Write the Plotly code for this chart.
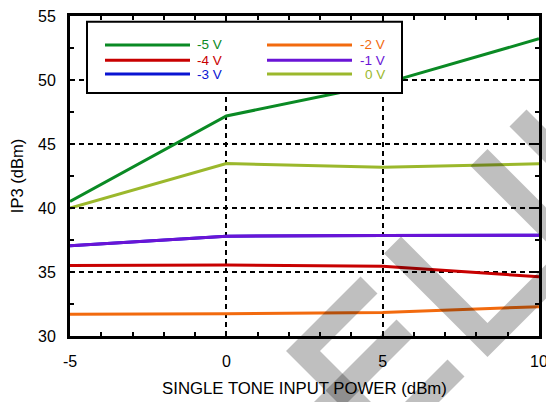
import plotly.graph_objects as go

# ---------------- data ----------------
x_power = [-5, 0, 5, 10]
ip3_m5 = [40.51, 47.19, 49.70, 53.22]
ip3_m4 = [35.51, 35.55, 35.45, 34.63]
ip3_m3 = [37.06, 37.80, 37.85, 37.87]   # hidden under the -1 V curve
ip3_m2 = [31.69, 31.73, 31.84, 32.29]
ip3_m1 = [37.06, 37.80, 37.85, 37.87]
ip3_0 = [40.00, 43.47, 43.19, 43.45]

labels = ["-5 V", "-4 V", "-3 V", "-2 V", "-1 V", "0 V"]
colors = ["#0a8a24", "#c80000", "#0a14d2", "#f26a0e", "#6a14d6", "#9bb82c"]
values = [ip3_m5, ip3_m4, ip3_m3, ip3_m2, ip3_m1, ip3_0]

x_ticks = [-5, 0, 5, 10]
x_ticktext = ["-5", "0", "5", "10"]
y_ticks = [30, 35, 40, 45, 50, 55]
y_ticktext = ["30", "35", "40", "45", "50", "55"]

W, H = 546, 402
ML, MR, MT, MB = 70, 7, 16, 66
PW, PH = W - ML - MR, H - MT - MB


def px(xp):
    return (xp - ML) / PW


def py(yp):
    return (H - MB - yp) / PH


fig = go.Figure()
draw_order = [2, 0, 1, 3, 4, 5]
for i in draw_order:
    fig.add_trace(go.Scatter(
        x=x_power, y=values[i], mode="lines", name=labels[i],
        line=dict(color=colors[i], width=3), showlegend=False,
        hoverinfo="skip"))

FONT = "Liberation Sans, Arial, Helvetica, sans-serif"
axis_common = dict(
    showline=True, linewidth=3, linecolor="black", mirror="allticks",
    ticks="inside", ticklen=5, tickwidth=1.5, tickcolor="black",
    showgrid=True, gridcolor="black", gridwidth=2, griddash="5px,4px",
    zeroline=False, tickfont=dict(size=16, color="black", family=FONT),
    ticklabeloverflow="allow",
)

fig.update_layout(
    width=W, height=H,
    margin=dict(l=ML, r=MR, t=MT, b=MB, autoexpand=False),
    paper_bgcolor="white", plot_bgcolor="white",
    font=dict(family=FONT, color="black"),
    xaxis=dict(range=[-5, 10], tickmode="array", tickvals=x_ticks,
               ticktext=x_ticktext,
               minor=dict(tickmode="linear", tick0=0, dtick=1, ticks="inside",
                          ticklen=4, tickwidth=1.5, tickcolor="black",
                          showgrid=False),
               ticklabelstandoff=9,
               title=dict(text="SINGLE TONE INPUT POWER (dBm)",
                          font=dict(size=16.75, color="black", family=FONT),
                          standoff=14),
               **axis_common),
    yaxis=dict(range=[30, 55], tickmode="array", tickvals=y_ticks,
               ticktext=y_ticktext,
               minor=dict(tickmode="linear", tick0=30, dtick=2.5,
                          ticks="inside", ticklen=4, tickwidth=1.5,
                          tickcolor="black", showgrid=False),
               ticklabelstandoff=8,
               title=dict(text="IP3 (dBm)",
                          font=dict(size=16.5, color="black", family=FONT),
                          standoff=11),
               **axis_common),
)

shapes = []
annotations = []

# ---------- legend (manual, inside plot) ----------
shapes.append(dict(type="rect", xref="paper", yref="paper", layer="above",
                   x0=px(87), x1=px(402), y0=py(93), y1=py(21.7),
                   line=dict(color="black", width=2), fillcolor="white"))
rows_y = [45, 60.3, 74]
cols = [(105, 190, 224.3), (267, 352, 386.7)]
for k, lab in enumerate(labels):
    c = k // 3
    r = k % 3
    lx0, lx1, tx = cols[c]
    yy = rows_y[r]
    shapes.append(dict(type="line", xref="paper", yref="paper", layer="above",
                       x0=px(lx0), x1=px(lx1), y0=py(yy), y1=py(yy),
                       line=dict(color=colors[k], width=3)))
    annotations.append(dict(xref="paper", yref="paper", x=px(tx), y=py(yy),
                            xanchor="right", yanchor="middle", showarrow=False,
                            text=lab, font=dict(size=13.5, color=colors[k],
                                                family=FONT)))

# ---------- watermark (gray diagonal bands) ----------
wm_paths = [
    [(518, 118), (610, 210)],
    [(479, 157.5), (610, 288.5)],
    [(392.5, 245), (487.5, 340), (610, 217.5)],
    [(369, 285), (303, 351), (365, 413)],
    [(405, 328), (315, 418)],
    [(456, 368), (405, 419)],
]
for pts in wm_paths:
    d = "M " + " L ".join(f"{px(a):.5f},{py(b):.5f}" for a, b in pts)
    shapes.append(dict(type="path", xref="paper", yref="paper", layer="above",
                       path=d, line=dict(color="rgba(0,0,0,0.25)", width=24)))

fig.update_layout(shapes=shapes, annotations=annotations)
fig.write_html("out.html")
